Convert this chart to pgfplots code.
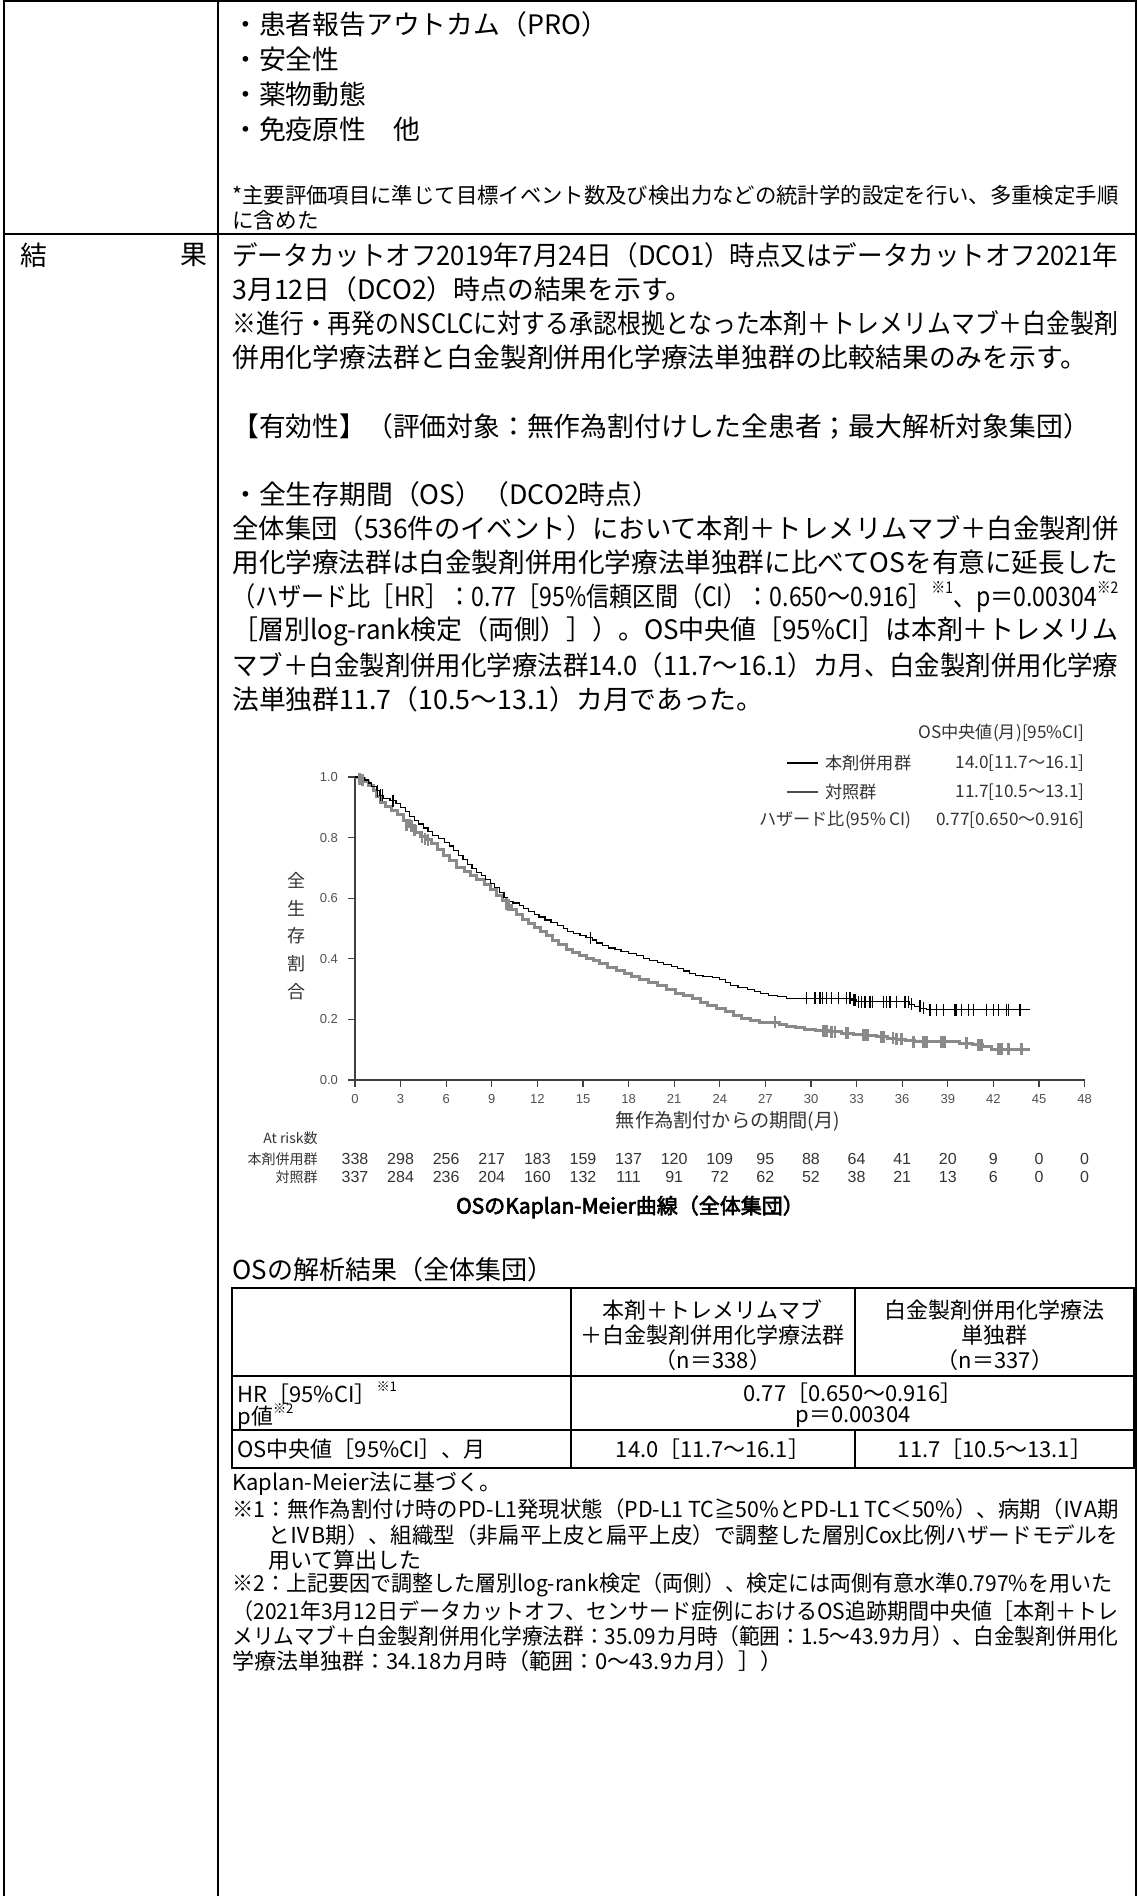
\documentclass[border=0pt]{standalone}
\usepackage{fontspec}
\usepackage{graphicx}
\usepackage{pgfplots}
\pgfplotsset{compat=1.18}
\setmainfont{Noto Sans CJK JP}
\newfontfamily\jpb[FakeBold=3]{Noto Sans CJK JP}
\newfontfamily\lsans{Liberation Sans}
\newcommand\fsz[1]{\fontsize{#1bp}{#1bp}\selectfont}
\newcommand\fitw[2]{\resizebox{#1bp}{\height}{#2}}
\newcommand\sups[1]{\raisebox{0.5em}{\scalebox{0.6}{#1}}}
\definecolor{axgray}{HTML}{404040}
\definecolor{labgray}{HTML}{505050}
\definecolor{curvegray}{HTML}{8A8A8A}
\definecolor{txtgray}{HTML}{333333}

\begin{document}
\begin{tikzpicture}
\useasboundingbox (0,0) rectangle (569.5bp,-948bp);
\begin{scope}[x=0.5bp,y=-0.5bp]
% frame of the page
\draw[line width=1bp] (4,1.5) -- (1136,1.5);
\draw[line width=1bp] (4,0) -- (4,1896);
\draw[line width=1bp] (218,0) -- (218,1896);
\draw[line width=1bp] (1136,0) -- (1136,1896);
\draw[line width=1bp] (4,234) -- (1136,234);

% top block
\begin{scope}[every node/.style={anchor=west, inner sep=0}]
\node at (232,24) {\fsz{13.4}・患者報告アウトカム（PRO）};
\node at (232,59) {\fsz{13.4}・安全性};
\node at (232,94) {\fsz{13.4}・薬物動態};
\node at (232,129) {\fsz{13.4}・免疫原性　他};
\node at (232,195) {\fsz{10.8}\fitw{443}{*主要評価項目に準じて目標イベント数及び検出力などの統計学的設定を行い、多重検定手順}};
\node at (232,220) {\fsz{10.8}に含めた};

% results block
\node at (20,255) {\fsz{13.4}結};
\node at (180,255) {\fsz{13.4}果};
\node at (232,255) {\fsz{13.4}\fitw{443}{データカットオフ2019年7月24日（DCO1）時点又はデータカットオフ2021年}};
\node at (232,289) {\fsz{13.4}3月12日（DCO2）時点の結果を示す。};
\node at (232,323) {\fsz{13.4}\fitw{443}{※進行・再発のNSCLCに対する承認根拠となった本剤＋トレメリムマブ＋白金製剤}};
\node at (232,357) {\fsz{13.4}併用化学療法群と白金製剤併用化学療法単独群の比較結果のみを示す。};
\node at (232,426) {\fsz{13.4}【有効性】（評価対象：無作為割付けした全患者；最大解析対象集団）};
\node at (232,494) {\fsz{13.4}・全生存期間（OS）（DCO2時点）};
\node at (232,528) {\fsz{13.4}\fitw{443}{全体集団（536件のイベント）において本剤＋トレメリムマブ＋白金製剤併}};
\node at (232,562) {\fsz{13.4}\fitw{443}{用化学療法群は白金製剤併用化学療法単独群に比べてOSを有意に延長した}};
\node at (232,597) {\fsz{13.4}\fitw{443}{（ハザード比［HR］：0.77［95\%信頼区間（CI）：0.650〜0.916］\sups{※1}、p＝0.00304\sups{※2}}};
\node at (232,631) {\fsz{13.4}\fitw{443}{［層別log-rank検定（両側）］）。OS中央値［95\%CI］は本剤＋トレメリム}};
\node at (232,665) {\fsz{13.4}\fitw{443}{マブ＋白金製剤併用化学療法群14.0（11.7〜16.1）カ月、白金製剤併用化学療}};
\node at (232,699) {\fsz{13.4}法単独群11.7（10.5〜13.1）カ月であった。};
\end{scope}

% chart legend
\begin{scope}[every node/.style={inner sep=0, text=txtgray}]
\node[anchor=east] at (1085,733) {\fsz{8.6}OS中央値(月)[95\%CI]};
\draw[black, line width=0.6bp] (787,763) -- (818,763);
\draw[black!70, line width=0.6bp] (787,792) -- (818,792);
\node[anchor=west] at (825,763) {\fsz{8.6}本剤併用群};
\node[anchor=west] at (825,792) {\fsz{8.6}対照群};
\node[anchor=east] at (912,820) {\fsz{8.6}ハザード比(95\% CI)};
\node[anchor=east] at (1085,763) {\fsz{8.6}14.0[11.7〜16.1]};
\node[anchor=east] at (1085,792) {\fsz{8.6}11.7[10.5〜13.1]};
\node[anchor=east] at (1085,820) {\fsz{8.6}0.77[0.650〜0.916]};

% y label, stacked
\node at (297,880) {\fsz{9}全};
\node at (297,908) {\fsz{9}生};
\node at (297,936) {\fsz{9}存};
\node at (297,964) {\fsz{9}割};
\node at (297,992) {\fsz{9}合};

% x label
\node at (728,1121) {\fsz{9.6}無作為割付からの期間(月)};

% numbers at risk
\node[anchor=east] at (318,1138) {\fsz{7}At risk数};
\node[anchor=east] at (318,1159) {\fsz{7}本剤併用群};
\node[anchor=east] at (318,1177) {\fsz{7}対照群};
\foreach \n [count=\i from 0] in {338,298,256,217,183,159,137,120,109,95,88,64,41,20,9,0,0}
  \node at (355+45.6*\i,1159) {\lsans\fsz{8}\n};
\foreach \n [count=\i from 0] in {337,284,236,204,160,132,111,91,72,62,52,38,21,13,6,0,0}
  \node at (355+45.6*\i,1177) {\lsans\fsz{8}\n};
\end{scope}

% chart caption
\node[inner sep=0] at (630,1207) {\jpb\fsz{10.5}OSのKaplan-Meier曲線（全体集団）};

% analysis table
\node[anchor=west, inner sep=0] at (232,1270) {\fsz{13}OSの解析結果（全体集団）};
\begin{scope}[line width=0.7bp]
\draw (232,1288) rectangle (1134,1468);
\draw (232,1376) -- (1134,1376);
\draw (232,1430) -- (1134,1430);
\draw (571,1288) -- (571,1468);
\draw (855,1288) -- (855,1376);
\draw (855,1430) -- (855,1468);
\end{scope}
\begin{scope}[every node/.style={inner sep=0}]
\node at (713,1310) {\fsz{11}本剤＋トレメリムマブ};
\node at (713,1335) {\fsz{11}＋白金製剤併用化学療法群};
\node at (713,1360) {\fsz{11}（n＝338）};
\node at (995,1310) {\fsz{11}白金製剤併用化学療法};
\node at (995,1335) {\fsz{11}単独群};
\node at (995,1360) {\fsz{11}（n＝337）};
\node[anchor=west] at (237,1393) {\fsz{11}HR［95\%CI］\sups{※1}};
\node[anchor=west] at (237,1417) {\fsz{11}p値\sups{※2}};
\node at (853,1393) {\fsz{11}0.77［0.650〜0.916］};
\node at (853,1417) {\fsz{11}p＝0.00304};
\node[anchor=west] at (237,1449) {\fsz{11}OS中央値［95\%CI］、月};
\node at (713,1449) {\fsz{11}14.0［11.7〜16.1］};
\node at (995,1449) {\fsz{11}11.7［10.5〜13.1］};
\end{scope}

% footnotes
\begin{scope}[every node/.style={anchor=west, inner sep=0}]
\node at (232,1484) {\fsz{11}Kaplan-Meier法に基づく。};
\node at (232,1509) {\fsz{11}\fitw{443}{※1：無作為割付け時のPD-L1発現状態（PD-L1 TC≧50\%とPD-L1 TC＜50\%）、病期（ⅣA期}};
\node at (268,1535) {\fsz{11}\fitw{425}{とⅣB期）、組織型（非扁平上皮と扁平上皮）で調整した層別Cox比例ハザードモデルを}};
\node at (268,1560) {\fsz{11}用いて算出した};
\node at (232,1585) {\fsz{11}\fitw{440}{※2：上記要因で調整した層別log-rank検定（両側）、検定には両側有意水準0.797\%を用いた}};
\node at (232,1611) {\fsz{11}\fitw{443}{（2021年3月12日データカットオフ、センサード症例におけるOS追跡期間中央値［本剤＋トレ}};
\node at (232,1636) {\fsz{11}\fitw{443}{メリムマブ＋白金製剤併用化学療法群：35.09カ月時（範囲：1.5〜43.9カ月）、白金製剤併用化}};
\node at (232,1661) {\fsz{11}学療法単独群：34.18カ月時（範囲：0〜43.9カ月）］）};
\end{scope}
\end{scope}

\begin{axis}[
  at={(177.5bp,-540bp)}, anchor=south west,
  scale only axis, width=364.8bp, height=151.5bp,
  xmin=0, xmax=48, ymin=0, ymax=1,
  axis lines=left,
  axis line style={-, draw=axgray, line width=0.6bp},
  xtick={0,3,...,48}, ytick={0,0.2,0.4,0.6,0.8,1.0},
  tick align=outside, major tick length=3.5bp,
  tick style={draw=axgray, line width=0.6bp},
  /pgf/number format/assume math mode=true,
  yticklabel style={/pgf/number format/.cd, fixed, fixed zerofill, precision=1, /tikz/xshift=-1.5bp},
  ticklabel style={font=\lsans\fontsize{6.5bp}{6.5bp}\selectfont, text=labgray},
  clip=false,
]
% control arm
\addplot[const plot, draw=curvegray, line width=1.5bp] coordinates {
(0,1) (0.3,0.994) (0.6,0.985) (0.9,0.972) (1.2,0.955) (1.4,0.935) (1.7,0.915)
(2.0,0.902) (2.4,0.889) (2.8,0.875) (3.2,0.858) (3.6,0.838) (4.0,0.818) (4.3,0.803)
(4.7,0.793) (5.0,0.78) (5.4,0.762) (5.8,0.741) (6.2,0.723) (6.7,0.703) (7.2,0.688)
(7.6,0.674) (8.0,0.661) (8.5,0.645) (8.9,0.628) (9.3,0.61) (9.7,0.592) (10.0,0.577)
(10.3,0.562) (10.6,0.547) (11.0,0.531) (11.4,0.516) (11.8,0.502) (12.2,0.49) (12.6,0.476)
(13.0,0.462) (13.4,0.447) (13.9,0.432) (14.3,0.422) (14.8,0.411) (15.2,0.401) (15.7,0.393)
(16.1,0.385) (16.6,0.372) (17.2,0.36) (17.7,0.35) (18.2,0.34) (18.7,0.331) (19.3,0.323)
(19.9,0.312) (20.5,0.3) (21.1,0.287) (21.6,0.278) (22.2,0.268) (22.7,0.257) (23.2,0.247)
(23.8,0.236) (24.4,0.226) (24.9,0.214) (25.4,0.204) (26.0,0.196) (26.6,0.19) (27.9,0.184)
(28.4,0.178) (29.0,0.172) (29.6,0.167) (30.3,0.163) (31.2,0.159) (32.0,0.155) (32.8,0.151)
(33.5,0.147) (34.3,0.143) (35.0,0.138) (35.6,0.134) (36.2,0.129) (36.8,0.126) (39.8,0.122)
(40.6,0.117) (41.3,0.11) (41.9,0.101) (44.4,0.101)};
\addplot[only marks, mark=|, mark size=3bp, curvegray, mark options={line width=1.3bp}] coordinates {
(0.3,0.994) (0.5,0.99) (3.4,0.84) (3.7,0.838) (3.9,0.825) (4.4,0.803) (4.6,0.796) (4.8,0.793)
(9.95,0.58) (10.1,0.577) (27.63,0.19)
(30.8,0.163) (30.92,0.163) (31.05,0.163) (31.36,0.159) (31.58,0.159)
(32.3,0.155) (32.36,0.155) (32.42,0.155) (33.45,0.147) (33.6,0.147) (33.75,0.147)
(34.65,0.143) (34.76,0.143) (35.4,0.138) (35.64,0.134) (35.97,0.134) (36.73,0.126)
(37.39,0.126) (37.61,0.126) (38.6,0.126) (38.7,0.126) (38.8,0.126) (40.24,0.122)
(41.0,0.117) (41.23,0.117) (42.32,0.101) (42.54,0.101) (42.98,0.101) (43.86,0.101)};
% treatment arm
\addplot[const plot, draw=black, line width=0.6bp] coordinates {
(0,1) (0.3,0.997) (0.6,0.99) (0.9,0.98) (1.1,0.968) (1.4,0.955) (1.6,0.94) (1.9,0.93)
(2.3,0.922) (2.7,0.912) (3.0,0.9) (3.3,0.885) (3.6,0.87) (3.9,0.857) (4.2,0.845)
(4.5,0.832) (4.8,0.82) (5.1,0.808) (5.5,0.797) (5.9,0.785) (6.2,0.772) (6.5,0.757)
(6.8,0.742) (7.1,0.727) (7.4,0.712) (7.7,0.699) (8.0,0.686) (8.3,0.674) (8.6,0.661)
(8.9,0.648) (9.2,0.635) (9.5,0.62) (9.8,0.603) (10.0,0.59) (10.4,0.584) (10.8,0.577)
(11.1,0.566) (11.4,0.556) (11.8,0.547) (12.1,0.538) (12.5,0.528) (12.9,0.519) (13.3,0.51)
(13.7,0.5) (14.0,0.49) (14.4,0.484) (14.8,0.477) (15.2,0.47) (15.6,0.462) (15.9,0.452)
(16.3,0.443) (16.7,0.436) (17.1,0.43) (17.5,0.424) (18.0,0.417) (18.5,0.41) (19.0,0.402)
(19.4,0.395) (19.9,0.388) (20.3,0.381) (20.8,0.374) (21.2,0.367) (21.6,0.36) (22.0,0.352)
(22.4,0.345) (22.9,0.341) (23.5,0.338) (24.0,0.333) (24.4,0.322) (24.7,0.312) (25.2,0.306)
(25.8,0.3) (26.3,0.292) (26.7,0.286) (27.2,0.279) (27.8,0.275) (28.4,0.27) (32.7,0.264)
(33.0,0.259) (36.5,0.25) (36.8,0.243) (37.2,0.237) (37.6,0.232) (44.4,0.232)};
\addplot[only marks, mark=|, mark size=3bp, black, mark options={line width=0.6bp}] coordinates {
(1.5,0.955) (1.7,0.94) (1.8,0.94) (2.5,0.922) (15.5,0.47)
(29.72,0.27) (30.26,0.27) (30.59,0.27) (30.77,0.27) (31.03,0.27) (31.36,0.27) (31.8,0.27)
(32.35,0.27) (32.57,0.27) (32.78,0.264) (32.89,0.264) (33.11,0.259) (33.33,0.259)
(33.55,0.259) (33.88,0.259) (34.06,0.259) (34.76,0.259) (34.98,0.259) (35.2,0.259)
(35.64,0.259) (36.18,0.259) (36.4,0.259) (36.63,0.25) (37.17,0.243) (37.39,0.237)
(37.83,0.232) (38.27,0.232) (38.71,0.232) (39.47,0.232) (39.58,0.232) (39.91,0.232)
(40.35,0.232) (40.68,0.232) (41.56,0.232) (41.99,0.232) (42.32,0.232) (42.87,0.232)
(42.98,0.232) (43.75,0.232)};
\end{axis}
\end{tikzpicture}
\end{document}
